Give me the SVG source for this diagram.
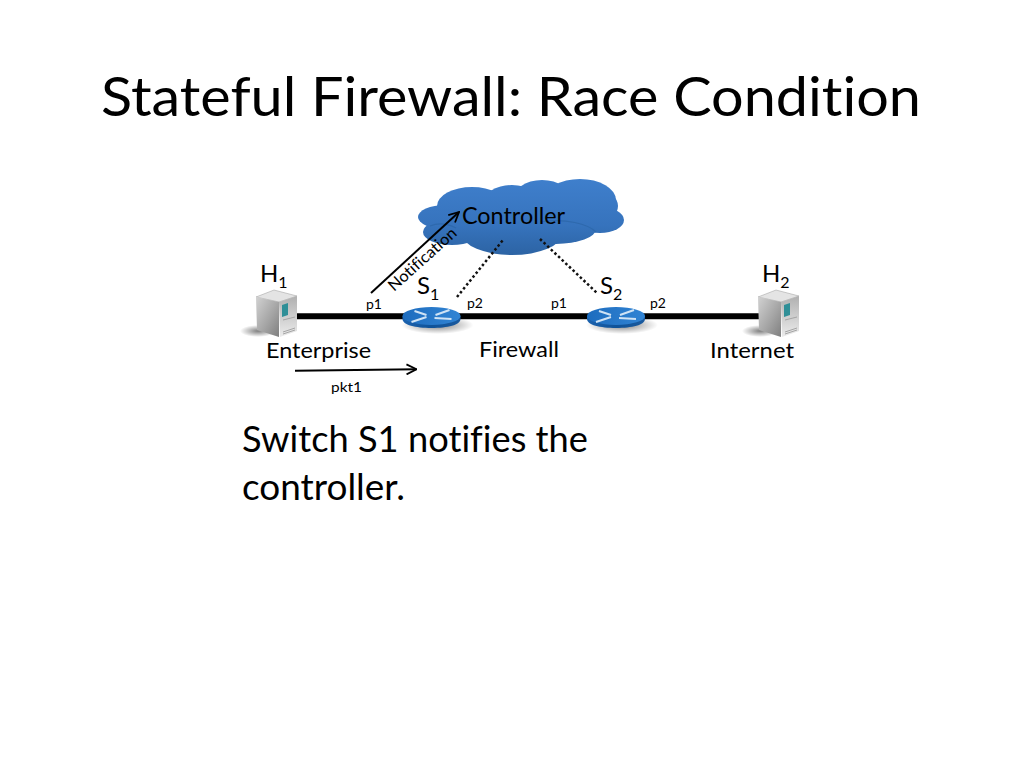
<svg xmlns="http://www.w3.org/2000/svg" width="1024" height="768" viewBox="0 0 1024 768">
<style>
text{font-family:"Lato","Liberation Sans",sans-serif;fill:#000;font-variant-ligatures:none}
.t{font-size:24px}.s{font-size:14px}.sub{font-size:16px}
.n{stroke:#000;stroke-width:2;fill:none}
.d{stroke:#111;stroke-width:2.500;fill:none;stroke-dasharray:2.500 2.500}
</style>
<defs>
<linearGradient id="cg" gradientUnits="userSpaceOnUse" x1="0" y1="179" x2="0" y2="256"><stop offset="0" stop-color="#3f7fcc"/><stop offset=".6" stop-color="#3673bd"/><stop offset="1" stop-color="#2c63a3"/></linearGradient>
<linearGradient id="rt" x1="0" y1="0" x2="1" y2="0"><stop offset="0" stop-color="#1d6cbe"/><stop offset="1" stop-color="#3184d4"/></linearGradient>
<linearGradient id="rb" x1="0" y1="0" x2="1" y2="0"><stop offset="0" stop-color="#1b62ae"/><stop offset=".5" stop-color="#0f5298"/><stop offset="1" stop-color="#1a5a9e"/></linearGradient>
<linearGradient id="sf" x1="0" y1="0" x2="1" y2="1"><stop offset="0" stop-color="#d2d2d2"/><stop offset=".55" stop-color="#a6a6a6"/><stop offset="1" stop-color="#7f7f7f"/></linearGradient>
<linearGradient id="sr" x1="0" y1="0" x2="0" y2="1"><stop offset="0" stop-color="#b0b0b0"/><stop offset="1" stop-color="#ececec"/></linearGradient>
<radialGradient id="sh"><stop offset="0" stop-color="#000" stop-opacity=".5"/><stop offset="1" stop-color="#000" stop-opacity="0"/></radialGradient>
<marker id="a" viewBox="0 0 12 12" refX="11" refY="6" markerWidth="12" markerHeight="12" markerUnits="userSpaceOnUse" orient="auto"><path d="M1 1L11 6L1 11" fill="none" stroke="#000" stroke-width="1.800"/></marker>
<g id="server">
<ellipse cx="1" cy="41" rx="18" ry="6" fill="url(#sh)"/>
<path d="M-1 7L17 0L40 6L22 12Z" fill="#e4e4e4" stroke="#9a9a9a" stroke-width=".5"/>
<path d="M-1 7L22 12V47L0 40Z" fill="url(#sf)"/>
<path d="M22 12L40 6V41L23 47Z" fill="url(#sr)"/>
<path d="M25 15L31 13V25L25 27Z" fill="#2f8f97"/>
<path d="M26 30L38 27M26 42L38 38M26 44L38 40" stroke="#a5a5a5" stroke-width="1"/>
</g>
<g id="router">
<ellipse cx="6" cy="9" rx="36" ry="9" fill="url(#sh)"/>
<path d="M-29 0V3C-29 9 -16 12 0 12S29 9 29 3V0Z" fill="url(#rb)"/>
<ellipse cx="0" cy="0" rx="29" ry="9" fill="url(#rt)"/>
<path d="M-17 -5L-5 -1M-5 1L-20 6M18 -6L4 -1M3 2L20 3" stroke="#cfe3f5" stroke-width="2" fill="none"/>
</g>
</defs>
<rect width="1024" height="768" fill="#fff"/>
<text x="101" y="116" font-size="55" textLength="820" lengthAdjust="spacingAndGlyphs">Stateful Firewall: Race Condition</text>
<g id="links"><path d="M297 316.300H760" stroke="#000" stroke-width="6"/></g>
<g id="controller">
<g fill="url(#cg)">
<ellipse cx="445" cy="217" rx="27" ry="12"/>
<ellipse cx="472" cy="206" rx="35" ry="19"/>
<ellipse cx="512" cy="205" rx="30" ry="20"/>
<ellipse cx="542" cy="201" rx="30" ry="21"/>
<ellipse cx="580" cy="200" rx="36" ry="21"/>
<ellipse cx="598" cy="206" rx="20" ry="16"/>
<ellipse cx="600" cy="220" rx="24" ry="13"/>
<ellipse cx="452" cy="232" rx="29" ry="13"/>
<ellipse cx="512" cy="234" rx="50" ry="21"/>
<ellipse cx="556" cy="229" rx="40" ry="15"/>
<rect x="455" y="200" width="135" height="30"/>
</g>
<path d="M430 226C440 222 448 224 456 228M540 222C566 218 588 224 596 232" fill="none" stroke="#2e69ad" stroke-width="1.200"/>
<text x="462" y="224" class="t" textLength="103" lengthAdjust="spacingAndGlyphs">Controller</text>
</g>
<g id="connectors">
<path class="n" d="M371 293L459 212" marker-end="url(#a)"/>
<path class="n" d="M295 370.700L416.500 369.300" marker-end="url(#a)"/>
<path class="d" d="M457 297L503 240"/>
<path class="d" d="M540 239L597 293"/>
</g>
<g id="h1"><use href="#server" x="257" y="290"/><text x="260" y="282" class="t">H<tspan class="sub" dy="6">1</tspan></text></g>
<g id="h2"><use href="#server" x="759" y="290"/><text x="762" y="282" class="t">H<tspan class="sub" dy="6">2</tspan></text></g>
<g id="s1"><use href="#router" x="431.500" y="316"/><text x="417" y="294" class="t">S<tspan class="sub" dy="6">1</tspan></text></g>
<g id="s2"><use href="#router" x="616" y="316"/><text x="600" y="294" class="t">S<tspan class="sub" dy="6">2</tspan></text></g>
<text class="s" x="366" y="309">p1</text>
<text class="s" x="467" y="308">p2</text>
<text class="s" x="551" y="308">p1</text>
<text class="s" x="650" y="308">p2</text>
<text class="s" x="331" y="392" textLength="31" lengthAdjust="spacingAndGlyphs">pkt1</text>
<text transform="translate(394,292) rotate(-42)" font-size="16" textLength="86" lengthAdjust="spacingAndGlyphs">Notification</text>
<text x="266" y="358" font-size="22" textLength="105" lengthAdjust="spacingAndGlyphs">Enterprise</text>
<text x="479" y="357" font-size="22" textLength="80" lengthAdjust="spacingAndGlyphs">Firewall</text>
<text x="710" y="358" font-size="22" textLength="84" lengthAdjust="spacingAndGlyphs">Internet</text>
<text x="242" y="452" font-size="36" textLength="346" lengthAdjust="spacingAndGlyphs">Switch S1 notifies the</text>
<text x="242" y="500" font-size="36" textLength="163" lengthAdjust="spacingAndGlyphs">controller.</text>
</svg>
